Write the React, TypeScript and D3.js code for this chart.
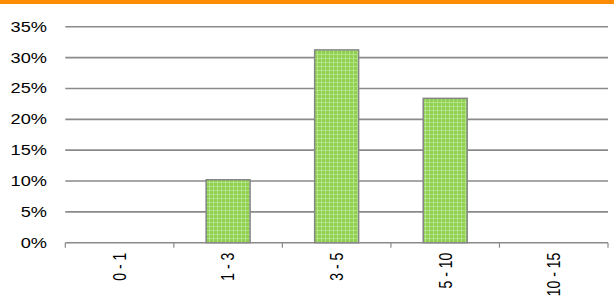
import { useEffect, useRef } from 'react';
import * as d3 from 'd3';

const categories = ['0 - 1', '1 - 3', '3 - 5', '5 - 10', '10 - 15'];
const shares = [0, 10.2, 31.25, 23.4, 0];
const yTicks = [0, 5, 10, 15, 20, 25, 30, 35];

const App = () => {
  const svgRef = useRef<SVGSVGElement | null>(null);

  useEffect(() => {
    const width = 614;
    const height = 304;
    const margin = { top: 26.8, right: 6, bottom: 61.3, left: 65.3 };
    const font = 'Liberation Sans, Arial, sans-serif';

    const svg = d3.select(svgRef.current);
    svg.selectAll('*').remove();
    svg.attr('width', width).attr('height', height);

    // green checkered fill
    const defs = svg.append('defs');
    const pat = defs.append('pattern')
      .attr('id', 'greenGrid')
      .attr('width', 4)
      .attr('height', 4)
      .attr('patternUnits', 'userSpaceOnUse');
    pat.append('rect').attr('width', 4).attr('height', 4).attr('fill', '#8fd14f');
    pat.append('rect').attr('x', 1).attr('width', 1).attr('height', 4).attr('fill', '#b3e288');
    pat.append('rect').attr('y', 2).attr('width', 4).attr('height', 1).attr('fill', '#b3e288');

    // orange band at the top
    svg.append('rect')
      .attr('x', 0).attr('y', 0)
      .attr('width', width).attr('height', 4)
      .attr('fill', '#ff8c00');

    const x = d3.scaleBand<string>()
      .domain(categories)
      .range([margin.left, width - margin.right]);

    const y = d3.scaleLinear()
      .domain([0, 35])
      .range([height - margin.bottom, margin.top]);

    // gridlines
    svg.append('g')
      .selectAll('line')
      .data(yTicks.filter(t => t > 0))
      .join('line')
      .attr('x1', margin.left)
      .attr('x2', width - margin.right)
      .attr('y1', d => y(d))
      .attr('y2', d => y(d))
      .attr('stroke', '#8a8a8a')
      .attr('stroke-width', 1.6);

    // y labels (the source is stretched sideways)
    svg.append('g')
      .selectAll('text')
      .data(yTicks)
      .join('text')
      .attr('transform', d => `translate(47,${y(d)}) scale(1.3,1)`)
      .attr('dy', '0.35em')
      .attr('text-anchor', 'end')
      .style('font-family', font)
      .style('font-size', '14px')
      .style('fill', '#000')
      .text(d => `${d}%`);

    // bars
    const barW = x.bandwidth() * 0.405;
    svg.append('g')
      .selectAll('rect')
      .data(categories.map((c, i) => ({ c, v: shares[i] })).filter(d => d.v > 0))
      .join('rect')
      .attr('x', d => (x(d.c) as number) + (x.bandwidth() - barW) / 2)
      .attr('y', d => y(d.v))
      .attr('width', barW)
      .attr('height', d => y(0) - y(d.v))
      .attr('fill', 'url(#greenGrid)')
      .attr('stroke', '#858585')
      .attr('stroke-width', 1.5);

    // x axis
    const axis = svg.append('g')
      .attr('transform', `translate(0,${y(0)})`);
    axis.append('line')
      .attr('x1', margin.left)
      .attr('x2', width - margin.right)
      .attr('stroke', '#8a8a8a')
      .attr('stroke-width', 1.6);
    const bounds = categories.map(c => x(c) as number).concat([width - margin.right]);
    axis.selectAll('line.tick')
      .data(bounds)
      .join('line')
      .attr('class', 'tick')
      .attr('x1', d => d)
      .attr('x2', d => d)
      .attr('y1', 0)
      .attr('y2', 5)
      .attr('stroke', '#8a8a8a')
      .attr('stroke-width', 1.2);

    axis.selectAll('text')
      .data(categories)
      .join('text')
      .attr('transform', d => `translate(${(x(d) as number) + x.bandwidth() / 2},10) scale(1.3,1) rotate(-90)`)
      .attr('dy', '0.35em')
      .attr('text-anchor', 'end')
      .style('font-family', font)
      .style('font-size', '14px')
      .style('fill', '#000')
      .text(d => d);
  }, []);

  return (
    <div style={{ position: 'fixed', left: 0, top: 0, background: '#fff' }}>
      <svg ref={svgRef} style={{ display: 'block' }} />
    </div>
  );
};

export default App;
